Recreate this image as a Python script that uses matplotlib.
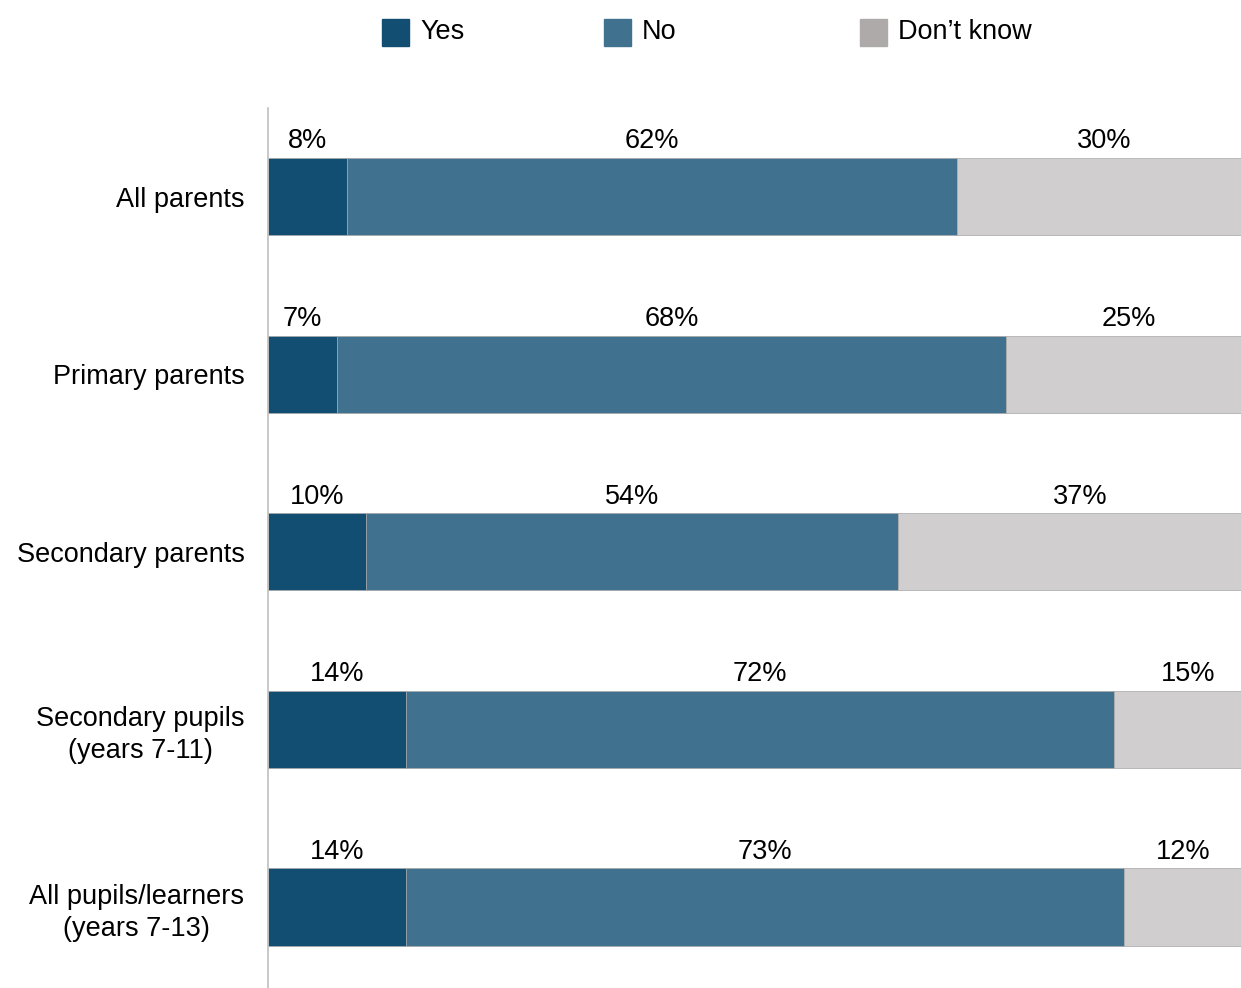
import matplotlib.pyplot as plt
from matplotlib.patches import Rectangle

plt.rcParams['font.family'] = ['Liberation Sans', 'DejaVu Sans']

# Survey responses (%)
groups = ['All parents', 'Primary parents', 'Secondary parents',
          'Secondary pupils\n(years 7-11)', 'All pupils/learners\n(years 7-13)']
yes = [8, 7, 10, 14, 14]
no = [62, 68, 54, 72, 73]
dont_know = [30, 25, 37, 15, 12]

series_names = ['Yes', 'No', 'Don\u2019t know']
bar_colors = ['#114e72', '#40718f', '#d0cece']
legend_colors = ['#114e72', '#40718f', '#aeaaaa']

FS = 19.5

fig = plt.figure(figsize=(12.41, 9.88), dpi=100)
ax = fig.add_axes([268 / 1241, 0, 1 - 268 / 1241, 1 - 108 / 988])

y = list(range(len(groups)))
left = [0] * len(groups)
for values, color in zip([yes, no, dont_know], bar_colors):
    bars = ax.barh(y, values, left=left, height=0.434, color=color,
                   edgecolor='#a6a6a6', linewidth=0.5)
    for b, v in zip(bars, values):
        ax.text(b.get_x() + b.get_width() / 2, b.get_y() - 0.02, f'{v}%',
                ha='center', va='bottom', fontsize=FS, color='#000000')
    left = [l + v for l, v in zip(left, values)]

ax.set_xlim(0, (1241 - 268) / 9.84)
ax.set_ylim(4.456, -0.4986)
ax.set_yticks(y)
ax.set_yticklabels(groups, fontsize=FS, linespacing=1.3,
                   multialignment='center')
ax.tick_params(axis='y', length=0, pad=17)
ax.set_xticks([])
for s in ['top', 'right', 'bottom']:
    ax.spines[s].set_visible(False)
ax.spines['left'].set_color('#bfbfbf')
ax.spines['left'].set_linewidth(1.2)

# Legend across the top
legend_x = [382, 604, 860]
for x0, name, color in zip(legend_x, series_names, legend_colors):
    fig.add_artist(Rectangle((x0 / 1241, 1 - 46 / 988), 27 / 1241, 27 / 988,
                             transform=fig.transFigure, color=color))
    fig.text((x0 + 38) / 1241, 1 - 32 / 988, name, fontsize=FS,
             va='center', ha='left')

fig.savefig('out.png', dpi=100)
